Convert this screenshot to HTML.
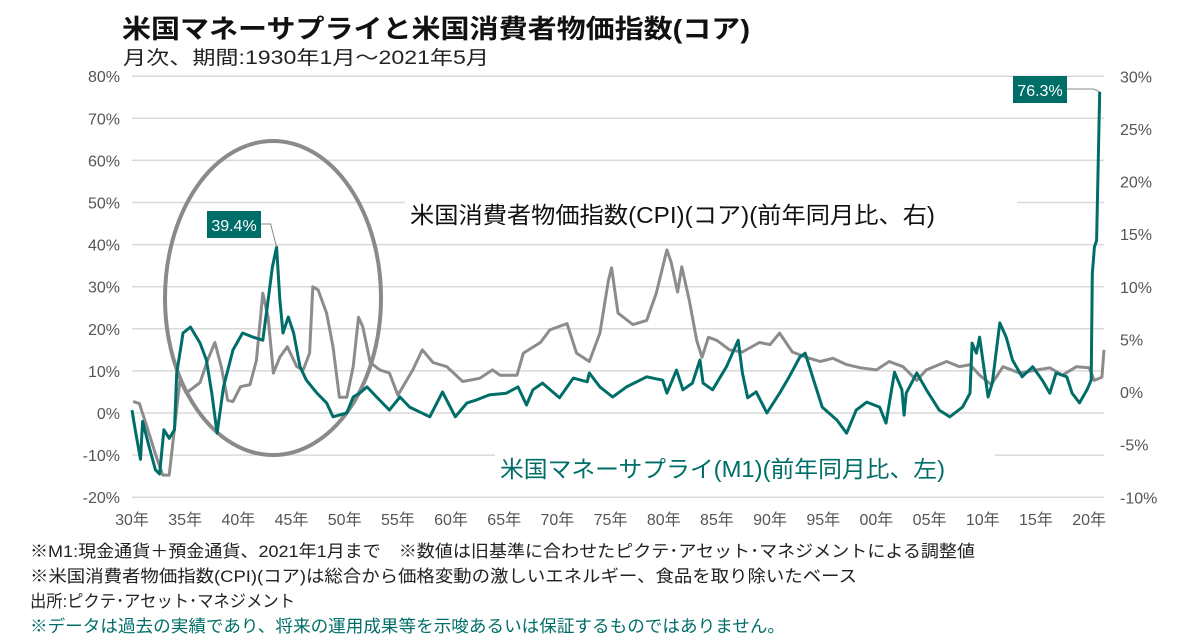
<!DOCTYPE html>
<html><head><meta charset="utf-8"><style>
body{margin:0;background:#fff;width:1200px;height:638px;overflow:hidden;font-family:"Liberation Sans","Noto Sans CJK JP",sans-serif}
</style></head><body>
<svg width="1200" height="638" xmlns="http://www.w3.org/2000/svg" font-family="Liberation Sans, Noto Sans CJK JP, sans-serif">
<text x="122" y="38" font-size="26" font-weight="bold" fill="#111" textLength="628" lengthAdjust="spacingAndGlyphs">米国マネーサプライと米国消費者物価指数(コア)</text>
<text x="123" y="64" font-size="19" fill="#222" textLength="366" lengthAdjust="spacingAndGlyphs">月次、期間:1930年1月～2021年5月</text>
<g id="grid"></g>
<g id="axes"></g>
<ellipse cx="273" cy="298" rx="108" ry="157" fill="none" stroke="#8a8a8a" stroke-width="4"/>
<rect x="405" y="195" width="612" height="34" fill="#fff"/>
<text x="410" y="223" font-size="23" fill="#111" textLength="525" lengthAdjust="spacingAndGlyphs">米国消費者物価指数(CPI)(コア)(前年同月比、右)</text>
<g id="series"></g>
<rect x="495" y="448" width="500" height="34" fill="#fff"/>
<text x="500" y="477" font-size="23" fill="#006e68" textLength="445" lengthAdjust="spacingAndGlyphs">米国マネーサプライ(M1)(前年同月比、左)</text>
<g id="annot"></g>
<text x="30" y="557" font-size="17" fill="#222" textLength="945" lengthAdjust="spacingAndGlyphs">※M1:現金通貨＋預金通貨、2021年1月まで　※数値は旧基準に合わせたピクテ･アセット･マネジメントによる調整値</text>
<text x="30" y="582" font-size="17" fill="#222" textLength="827" lengthAdjust="spacingAndGlyphs">※米国消費者物価指数(CPI)(コア)は総合から価格変動の激しいエネルギー、食品を取り除いたベース</text>
<text x="30" y="607" font-size="17" fill="#222" textLength="265" lengthAdjust="spacingAndGlyphs">出所:ピクテ･アセット･マネジメント</text>
<text x="30" y="632" font-size="17" fill="#006e68" textLength="755" lengthAdjust="spacingAndGlyphs">※データは過去の実績であり、将来の運用成果等を示唆あるいは保証するものではありません。</text>
</svg>
<script>
const leftTicks=[80,70,60,50,40,30,20,10,0,-10,-20];
const rightTicks=[30,25,20,15,10,5,0,-5,-10];
const xTickYears=[1930,1935,1940,1945,1950,1955,1960,1965,1970,1975,1980,1985,1990,1995,2000,2005,2010,2015,2020];
const m1Dates=[1930.0,1930.3,1930.8,1931.0,1931.5,1932.2,1932.6,1933.0,1933.5,1934.0,1934.2,1934.6,1934.8,1935.5,1936.4,1937.0,1937.5,1938.0,1938.6,1939.5,1940.4,1941.4,1942.3,1942.8,1943.2,1943.6,1943.9,1944.2,1944.7,1945.2,1945.8,1946.4,1947.4,1948.3,1948.9,1950.2,1950.8,1951.4,1952.1,1953.0,1954.2,1955.2,1956.1,1958.0,1959.2,1960.4,1961.5,1962.4,1963.6,1965.2,1966.3,1967.1,1967.7,1968.6,1970.2,1971.5,1972.8,1973.0,1974.0,1975.2,1976.5,1978.4,1979.9,1980.3,1981.2,1981.8,1982.7,1983.4,1983.7,1984.6,1985.9,1987.0,1987.4,1987.9,1988.7,1989.7,1990.9,1991.8,1992.8,1993.3,1994.0,1994.9,1996.3,1997.2,1998.1,1999.1,2000.3,2000.9,2001.7,2002.4,2002.6,2002.8,2003.8,2004.7,2005.9,2006.9,2008.1,2008.8,2009.0,2009.4,2009.7,2010.0,2010.5,2010.9,2011.6,2012.2,2012.8,2013.7,2014.7,2015.6,2016.3,2016.9,2017.9,2018.4,2019.1,2019.8,2020.2,2020.3,2020.5,2020.7,2021.0];
const m1Values=[0.7,-4,-11,-2,-7,-13.5,-14.5,-4,-6,-4,9.5,15.7,19,20.4,16.6,12.6,4.7,-4.8,6.2,15,19,18,17.3,26.8,34.7,39.4,27,19,22.8,19,11,7.8,4.7,2.4,-0.9,0,3.8,4.7,6.2,3.8,0.7,3.8,1.4,-0.9,5,-0.9,2.4,3.1,4.3,4.7,6.2,1.9,5.5,7.1,3.6,8.3,7.4,9.5,6.2,3.8,6.2,8.6,7.8,4.7,10.2,5.5,7.1,12.6,7.1,5.5,11,17.3,9.5,3.6,5,0,4.7,8.6,13.3,14.2,8.6,1.4,-1.7,-4.8,0.7,2.6,1.4,-2.4,9.7,5.5,-0.5,4.7,9.5,5.5,0.7,-0.9,1.4,4.7,16.6,14.2,18,12.6,3.8,7.1,21.4,18,12.6,8.6,11,7.8,4.7,9.5,8.6,4.7,2.4,5.5,7.8,33,39.4,41,76.3];
const cpiDates=[1930.1,1930.7,1931.4,1932.3,1932.9,1933.5,1934.5,1935.1,1936.4,1937.1,1937.8,1938.4,1939.0,1939.5,1940.2,1941.1,1941.7,1942.3,1942.8,1943.3,1943.9,1944.6,1945.5,1946.1,1946.7,1947.0,1947.5,1948.3,1948.9,1949.5,1950.2,1950.8,1951.3,1951.7,1952.4,1953.3,1954.2,1955.0,1956.4,1957.3,1958.3,1959.6,1961.1,1962.7,1963.9,1964.6,1966.2,1966.8,1968.4,1969.3,1970.9,1971.8,1973.0,1974.0,1974.8,1975.1,1975.7,1977.1,1978.4,1979.3,1980.3,1980.7,1981.3,1981.7,1982.4,1983.1,1983.6,1984.2,1985.0,1986.2,1987.4,1989.0,1990.0,1990.9,1992.1,1993.4,1994.7,1995.9,1997.2,1998.5,2000.0,2001.2,2002.5,2003.8,2004.7,2006.6,2007.8,2008.8,2009.7,2010.8,2011.9,2013.5,2015.1,2016.3,2017.5,2018.8,2020.0,2020.5,2021.2,2021.4];
const cpiValues=[-0.9,-1.1,-3.3,-6.2,-7.9,-7.9,1.1,-0.1,0.9,3,4.7,2.4,-0.8,-0.9,0.5,0.7,3,9.4,7.1,1.8,3.3,4.3,2.4,2.1,3.7,10,9.7,7.5,4.3,-0.5,-0.5,2.4,7.1,6.2,2.8,2.1,1.8,-0.3,2.1,4,2.8,2.4,1,1.3,2.1,1.6,1.6,3.7,4.7,5.9,6.5,3.7,2.9,5.6,10.6,11.8,7.5,6.4,6.8,9.4,13.5,12.3,9.5,11.9,8.7,4.9,3.3,5.2,4.9,4,3.8,4.7,4.5,5.6,3.8,3.3,2.9,3.2,2.6,2.3,2.1,2.9,2.4,1.1,2.1,2.9,2.4,2.6,1.6,0.7,2.4,1.8,2.1,2.3,1.6,2.4,2.3,1.1,1.4,4];

const NS='http://www.w3.org/2000/svg';
const X0=132,X1=1104,T0=1930,T1=2021.4;
const xS=t=>X0+(t-T0)*(X1-X0)/(T1-T0);
const yL=v=>413-v*4.21;
const yR=v=>392-v*10.525;
function mk(tag,attrs,parent,text){const e=document.createElementNS(NS,tag);for(const k in attrs)e.setAttribute(k,attrs[k]);if(text!==undefined)e.textContent=text;document.getElementById(parent).appendChild(e);return e;}
leftTicks.forEach(v=>{
  const l=mk('line',{x1:X0,x2:X1,y1:yL(v),y2:yL(v),stroke:'#d9d9d9','stroke-width':1.5},'grid');
  
  
  const t=mk('text',{x:120,y:yL(v)+6,'font-size':16,fill:'#555','text-anchor':'end'},'axes',v+'%');
  
  
});
rightTicks.forEach(v=>{
  const t=mk('text',{x:1120,y:yR(v)+6,'font-size':16,fill:'#555'},'axes',v+'%');
  
  
});
xTickYears.forEach(y=>{
  const t=mk('text',{x:xS(y),y:525,'font-size':16,fill:'#555','text-anchor':'middle'},'axes',String(y%100).padStart(2,'0')+'年');
  
  
});
const cp=mk('polyline',{points:cpiDates.map((d,i)=>xS(d).toFixed(1)+','+yR(cpiValues[i]).toFixed(1)).join(' '),fill:'none',stroke:'#8c8c8c','stroke-width':3,'stroke-linejoin':'round'},'series');


const mp=mk('polyline',{points:m1Dates.map((d,i)=>xS(d).toFixed(1)+','+yL(m1Values[i]).toFixed(1)).join(' '),fill:'none',stroke:'#006e68','stroke-width':3,'stroke-linejoin':'round'},'series');


function callout(idx,bx,by,name){
  const px=xS(m1Dates[idx]),py=yL(m1Values[idx]);
  const ln=mk('polyline',{points:(bx+54)+','+(by+13)+' '+(px-6)+','+(by+13)+' '+px+','+py,fill:'none',stroke:'#888','stroke-width':1},'annot');
  
  
  const r=mk('rect',{x:bx,y:by,width:54,height:27,fill:'#006e68'},'annot');
  
  
  const t=mk('text',{x:bx+27,y:by+20,'font-size':16,fill:'#fff','text-anchor':'middle'},'annot',m1Values[idx].toFixed(1)+'%');
  
  
}
callout(m1Values.indexOf(39.4),207,211,'peak-1943-callout');
callout(m1Values.length-1,1013,76,'peak-2021-callout');
</script>
</body></html>
